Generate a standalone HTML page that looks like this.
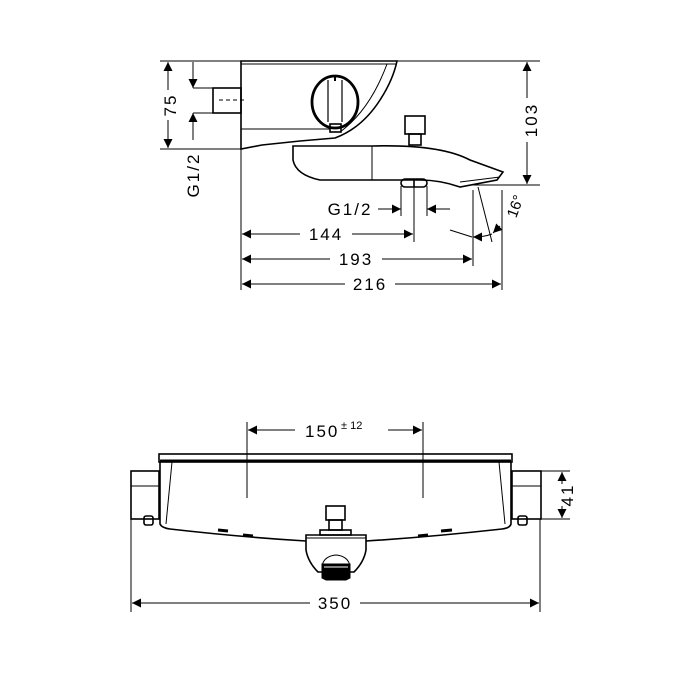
<!DOCTYPE html>
<html><head><style>html,body{margin:0;padding:0;background:#fff}svg{display:block}</style></head><body>
<svg width="678" height="678" viewBox="0 0 678 678" xmlns="http://www.w3.org/2000/svg" font-family="Liberation Sans, sans-serif" font-size="17" fill="none" stroke="#000">
<defs>
<marker id="a" viewBox="0 0 10 10" refX="10" refY="5" markerWidth="11" markerHeight="9" markerUnits="userSpaceOnUse" orient="auto-start-reverse"><path d="M0,0L10,5L0,10z" fill="#000" stroke="none"/></marker>
</defs>
<g stroke-width="1">
<line x1="160" y1="61" x2="540" y2="61"/>
<line x1="160" y1="149" x2="241" y2="149"/>
<line x1="470" y1="185" x2="540" y2="185"/>
<line x1="241" y1="149" x2="241" y2="290"/>
<line x1="414" y1="186" x2="414" y2="242"/>
<line x1="401" y1="186" x2="401" y2="216"/>
<line x1="427" y1="186" x2="427" y2="216"/>
<line x1="473" y1="190" x2="473" y2="266"/>
<line x1="502" y1="190" x2="502" y2="290"/>
<line x1="478" y1="187" x2="492" y2="242"/>
<line x1="168" y1="62" x2="168" y2="90" marker-start="url(#a)"/>
<line x1="168" y1="120" x2="168" y2="148" marker-end="url(#a)"/>
<line x1="193" y1="62" x2="193" y2="88" marker-end="url(#a)"/>
<line x1="193" y1="113" x2="193" y2="140" marker-start="url(#a)"/>
<line x1="193" y1="88" x2="213" y2="88"/><line x1="193" y1="113" x2="213" y2="113"/>
<line x1="527" y1="62" x2="527" y2="98" marker-start="url(#a)"/>
<line x1="527" y1="142" x2="527" y2="184" marker-end="url(#a)"/>
<line x1="378" y1="209" x2="401" y2="209" marker-end="url(#a)"/>
<line x1="450" y1="209" x2="427" y2="209" marker-end="url(#a)"/>
<line x1="242" y1="234" x2="300" y2="234" marker-start="url(#a)"/>
<line x1="352" y1="234" x2="413" y2="234" marker-end="url(#a)"/>
<line x1="242" y1="259" x2="330" y2="259" marker-start="url(#a)"/>
<line x1="382" y1="259" x2="472" y2="259" marker-end="url(#a)"/>
<line x1="242" y1="284" x2="345" y2="284" marker-start="url(#a)"/>
<line x1="395" y1="284" x2="501" y2="284" marker-end="url(#a)"/>
<path d="M450,230 L472,237" /><path d="M473,237 Q484,237 492,234" marker-start="url(#a)"/>
<line x1="500" y1="226" x2="493" y2="233" marker-end="url(#a)"/>
</g>
<g fill="#000" stroke="none">
<text x="170" y="105" text-anchor="middle" transform="rotate(-90 170 105)" dy="6" letter-spacing="2">75</text>
<text x="193" y="175" text-anchor="middle" transform="rotate(-90 193 175)" dy="6" letter-spacing="2">G1/2</text>
<text x="531" y="120" text-anchor="middle" transform="rotate(-90 531 120)" dy="6" letter-spacing="2">103</text>
<text x="350" y="215" text-anchor="middle" letter-spacing="2">G1/2</text>
<text x="326" y="240" text-anchor="middle" letter-spacing="2">144</text>
<text x="356" y="265" text-anchor="middle" letter-spacing="2">193</text>
<text x="370" y="290" text-anchor="middle" letter-spacing="2">216</text>
<text x="520" y="208" text-anchor="middle" transform="rotate(-70 520 208)" font-size="15">16°</text>
</g>
<g stroke-width="1.6">
<path d="M241,61 L397,61 Q393,80 380,100 Q362,128 335,138 L300,141 L262,145 L241,149 Z"/>
<line x1="241" y1="64" x2="396" y2="64" stroke-width="1"/>
<line x1="241" y1="129" x2="330" y2="129" stroke-width="1"/>
<path d="M387,64 Q370,110 340,132" stroke-width="1"/>
<rect x="213" y="88" width="28" height="25"/>
<line x1="219" y1="100" x2="245" y2="100" stroke-dasharray="4,3" stroke-width="1"/>
<ellipse cx="335" cy="102" rx="23" ry="26" stroke-width="2.8"/>
<path d="M328,80 L328,122 M342,80 L342,122" stroke-width="1.2"/>
<line x1="335" y1="77" x2="335" y2="81" stroke-width="2"/>
<rect x="330" y="124" width="11" height="8"/>
<path d="M293,146 L372,146 Q440,144 470,160 L503,172 L497,180 L460,187 Q440,180 420,180 L320,180 Q296,175 293,160 Z"/>
<line x1="372" y1="146" x2="372" y2="180" stroke-width="1"/>
<path d="M460,182 L500,177" stroke-width="1"/>
<rect x="405" y="116" width="20" height="18"/>
<rect x="409" y="134" width="12" height="11"/>
<rect x="401" y="179" width="26" height="8" rx="4"/>
<line x1="414" y1="179" x2="414" y2="187"/>
</g>
<g stroke-width="1">
<line x1="247" y1="422" x2="247" y2="498"/>
<line x1="423" y1="422" x2="423" y2="498"/>
<line x1="248" y1="430" x2="295" y2="430" marker-start="url(#a)"/>
<line x1="388" y1="430" x2="422" y2="430" marker-end="url(#a)"/>
<line x1="131" y1="519" x2="131" y2="612"/>
<line x1="540" y1="519" x2="540" y2="612"/>
<line x1="132" y1="603" x2="310" y2="603" marker-start="url(#a)"/>
<line x1="360" y1="603" x2="539" y2="603" marker-end="url(#a)"/>
<line x1="541" y1="471" x2="570" y2="471"/>
<line x1="541" y1="519" x2="570" y2="519"/>
<line x1="562" y1="472" x2="562" y2="484" marker-start="url(#a)"/>
<line x1="562" y1="506" x2="562" y2="518" marker-end="url(#a)"/>
</g>
<g fill="#000" stroke="none">
<text x="305" y="437" letter-spacing="2">150</text>
<text x="341" y="429" font-size="11">± 12</text>
<text x="335" y="609" text-anchor="middle" letter-spacing="2">350</text>
<text x="567" y="495" text-anchor="middle" transform="rotate(-90 567 495)" dy="6" letter-spacing="2">41</text>
</g>
<g stroke-width="1.6">
<rect x="159" y="454" width="353" height="8"/>
<line x1="160" y1="461" x2="511" y2="461" stroke-width="3"/>
<path d="M160,462 L160,524 Q162,528 170,529 Q240,537 306,541 M366,541 Q430,537 502,529 Q510,528 511,524 L511,462"/>
<path d="M172,462 L166,524 M499,462 L505,524" stroke-width="1"/>
<rect x="131" y="471" width="28" height="48"/>
<rect x="512" y="471" width="29" height="48"/>
<line x1="131" y1="486" x2="159" y2="486" stroke-width="1"/>
<line x1="512" y1="486" x2="541" y2="486" stroke-width="1"/>
<rect x="144" y="516" width="9" height="9" rx="2"/>
<rect x="518" y="516" width="9" height="9" rx="2"/>
<path d="M218,530 L228,531 M243,535 L253,536 M418,536 L428,535 M441,531 L452,530" stroke-width="3"/>
<rect x="326" y="506" width="19" height="14"/>
<rect x="329" y="520" width="13" height="10"/>
<rect x="320" y="530" width="31" height="5"/>
<path d="M306,535 L366,535 L366,550 Q364,562 354,572 L318,572 Q308,562 306,550 Z"/>
<line x1="306" y1="538" x2="366" y2="538" stroke-width="1"/>
<path d="M322,566 Q324,556 336,555 Q348,556 350,566" stroke-width="1"/>
</g>
<path d="M322,564 L350,564 L350,578 L346,580 L326,580 L322,578 Z" fill="#000"/>
<line x1="324" y1="567" x2="348" y2="567" stroke="#fff" stroke-width="1"/>
</svg>
</body></html>
